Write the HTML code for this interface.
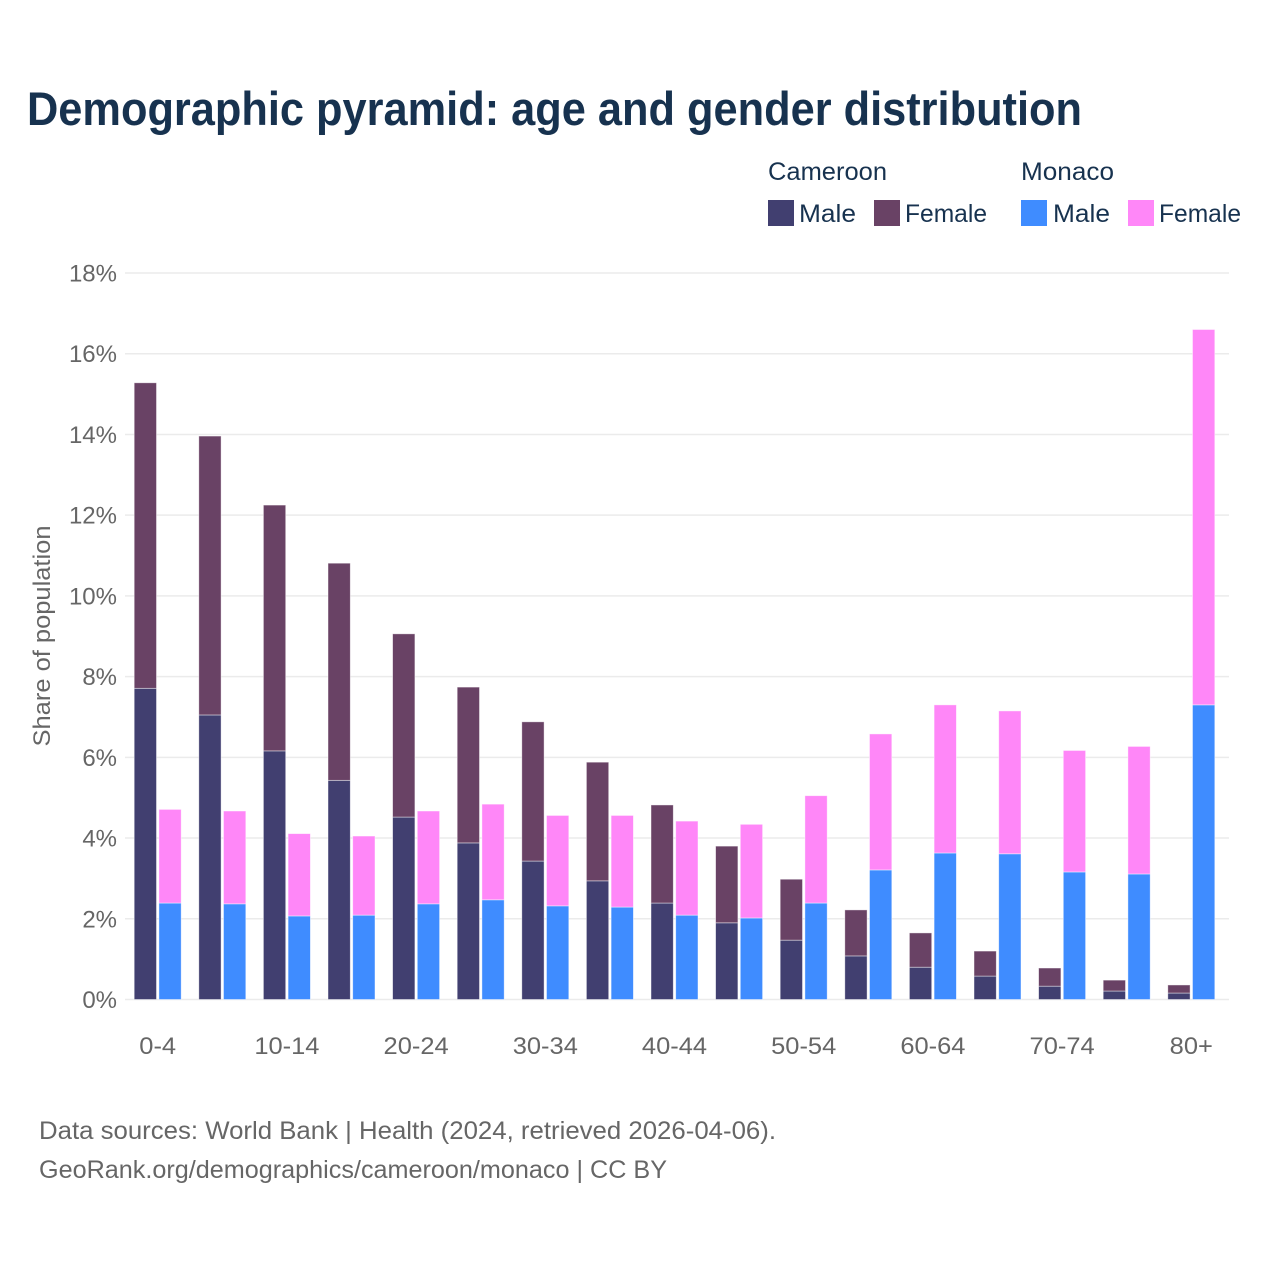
<!DOCTYPE html>
<html lang="en">
<head>
<meta charset="utf-8">
<title>Demographic pyramid</title>
<style>
html,body{margin:0;padding:0;background:#fff;}
svg{display:block;font-family:"Liberation Sans",sans-serif;}
</style>
</head>
<body>
<svg id="chart" xmlns="http://www.w3.org/2000/svg" width="1280" height="1280" viewBox="0 0 1280 1280">
  <rect width="1280" height="1280" fill="#fff"/>
  <text x="27" y="125" font-size="47" font-weight="700" fill="#17324f" textLength="1055" lengthAdjust="spacingAndGlyphs">Demographic pyramid: age and gender distribution</text>

  <g font-size="25" fill="#17324f">
    <text x="768" y="180" textLength="119" lengthAdjust="spacingAndGlyphs">Cameroon</text>
    <text x="1021" y="180" textLength="93" lengthAdjust="spacingAndGlyphs">Monaco</text>
    <rect x="768" y="200" width="26" height="26" fill="#413f70"/>
    <text x="799" y="222" textLength="57" lengthAdjust="spacingAndGlyphs">Male</text>
    <rect x="874" y="200" width="26" height="26" fill="#694265"/>
    <text x="905" y="222" textLength="82" lengthAdjust="spacingAndGlyphs">Female</text>
    <rect x="1021" y="200" width="26" height="26" fill="#3f8cff"/>
    <text x="1053" y="222" textLength="57" lengthAdjust="spacingAndGlyphs">Male</text>
    <rect x="1128" y="200" width="26" height="26" fill="#ff87f8"/>
    <text x="1159" y="222" textLength="82" lengthAdjust="spacingAndGlyphs">Female</text>
  </g>

  <g id="grid"></g>
  <g id="yticks"></g>
  <g id="bars"></g>
  <g id="xticks"></g>

  <text transform="translate(50,636) rotate(-90)" text-anchor="middle" font-size="24" fill="#666" textLength="221" lengthAdjust="spacingAndGlyphs">Share of population</text>

  <text x="39" y="1139" font-size="25" fill="#666" textLength="737" lengthAdjust="spacingAndGlyphs">Data sources: World Bank | Health (2024, retrieved 2026-04-06).</text>
  <text x="39" y="1178" font-size="25" fill="#666" textLength="628" lengthAdjust="spacingAndGlyphs">GeoRank.org/demographics/cameroon/monaco | CC BY</text>
</svg>
<script>
const categories = ['0-4','5-9','10-14','15-19','20-24','25-29','30-34','35-39','40-44','45-49','50-54','55-59','60-64','65-69','70-74','75-79','80+'];
const shownCategories = ['0-4','10-14','20-24','30-34','40-44','50-54','60-64','70-74','80+'];
const cameroonMale = [7.71,7.05,6.16,5.43,4.52,3.88,3.43,2.94,2.39,1.90,1.47,1.08,0.80,0.58,0.33,0.21,0.16];
const cameroonFemale = [7.57,6.91,6.09,5.38,4.54,3.86,3.45,2.94,2.43,1.90,1.51,1.14,0.85,0.62,0.45,0.27,0.20];
const monacoMale = [2.39,2.37,2.07,2.09,2.37,2.47,2.32,2.29,2.09,2.02,2.39,3.21,3.63,3.61,3.16,3.11,7.30];
const monacoFemale = [2.32,2.30,2.04,1.96,2.30,2.37,2.24,2.27,2.33,2.32,2.66,3.37,3.67,3.54,3.01,3.16,9.30];
const yTicks = [0,2,4,6,8,10,12,14,16,18];

const NS = 'http://www.w3.org/2000/svg';
const yScale = v => 999.5 - v * (726.5 / 18);
const xScale = i => 157.7 + i * 64.6;
const BAR_W = 22.3;
const BAR_GAP = 2.4;

function addBar(parent, x, v0, v1, fill) {
  const r = document.createElementNS(NS, 'rect');
  r.setAttribute('x', x);
  r.setAttribute('y', yScale(v1));
  r.setAttribute('width', BAR_W);
  r.setAttribute('height', yScale(v0) - yScale(v1));
  r.setAttribute('fill', fill);
  r.setAttribute('stroke', '#fff');
  r.setAttribute('stroke-opacity', '0.55');
  r.setAttribute('stroke-width', '0.8');
  parent.appendChild(r);
  return r;
}

function addText(parent, x, y, str, anchor) {
  const t = document.createElementNS(NS, 'text');
  t.setAttribute('x', x);
  t.setAttribute('y', y);
  t.setAttribute('text-anchor', anchor);
  t.setAttribute('font-size', '24');
  t.setAttribute('fill', '#666');
  t.textContent = str;
  parent.appendChild(t);
  return t;
}

const grid = document.getElementById('grid');
const yt = document.getElementById('yticks');
yTicks.forEach(v => {
  const l = document.createElementNS(NS, 'line');
  l.setAttribute('x1', 125);
  l.setAttribute('x2', 1229);
  l.setAttribute('y1', yScale(v));
  l.setAttribute('y2', yScale(v));
  l.setAttribute('stroke', '#ebebeb');
  l.setAttribute('stroke-width', '1.5');
  
  
  grid.appendChild(l);
  const t = addText(yt, 117, yScale(v) + 8.5, v + '%', 'end');
  
  
});

const bars = document.getElementById('bars');
categories.forEach((c, i) => {
  const cx = xScale(i);
  const x1 = cx - BAR_GAP / 2 - BAR_W;
  const x2 = cx + BAR_GAP / 2;
  const a = addBar(bars, x1, 0, cameroonMale[i], '#413f70');
  
  
  const b = addBar(bars, x1, cameroonMale[i], cameroonMale[i] + cameroonFemale[i], '#694265');
  
  
  const d = addBar(bars, x2, 0, monacoMale[i], '#3f8cff');
  
  
  const e = addBar(bars, x2, monacoMale[i], monacoMale[i] + monacoFemale[i], '#ff87f8');
  
  
});

const xt = document.getElementById('xticks');
categories.forEach((c, i) => {
  if (!shownCategories.includes(c)) return;
  const t = addText(xt, xScale(i), 1054, c, 'middle');
  
  
  t.setAttribute('textLength', (t.getComputedTextLength() * 1.06).toFixed(1));
  t.setAttribute('lengthAdjust', 'spacingAndGlyphs');
});
</script>
</body>
</html>
